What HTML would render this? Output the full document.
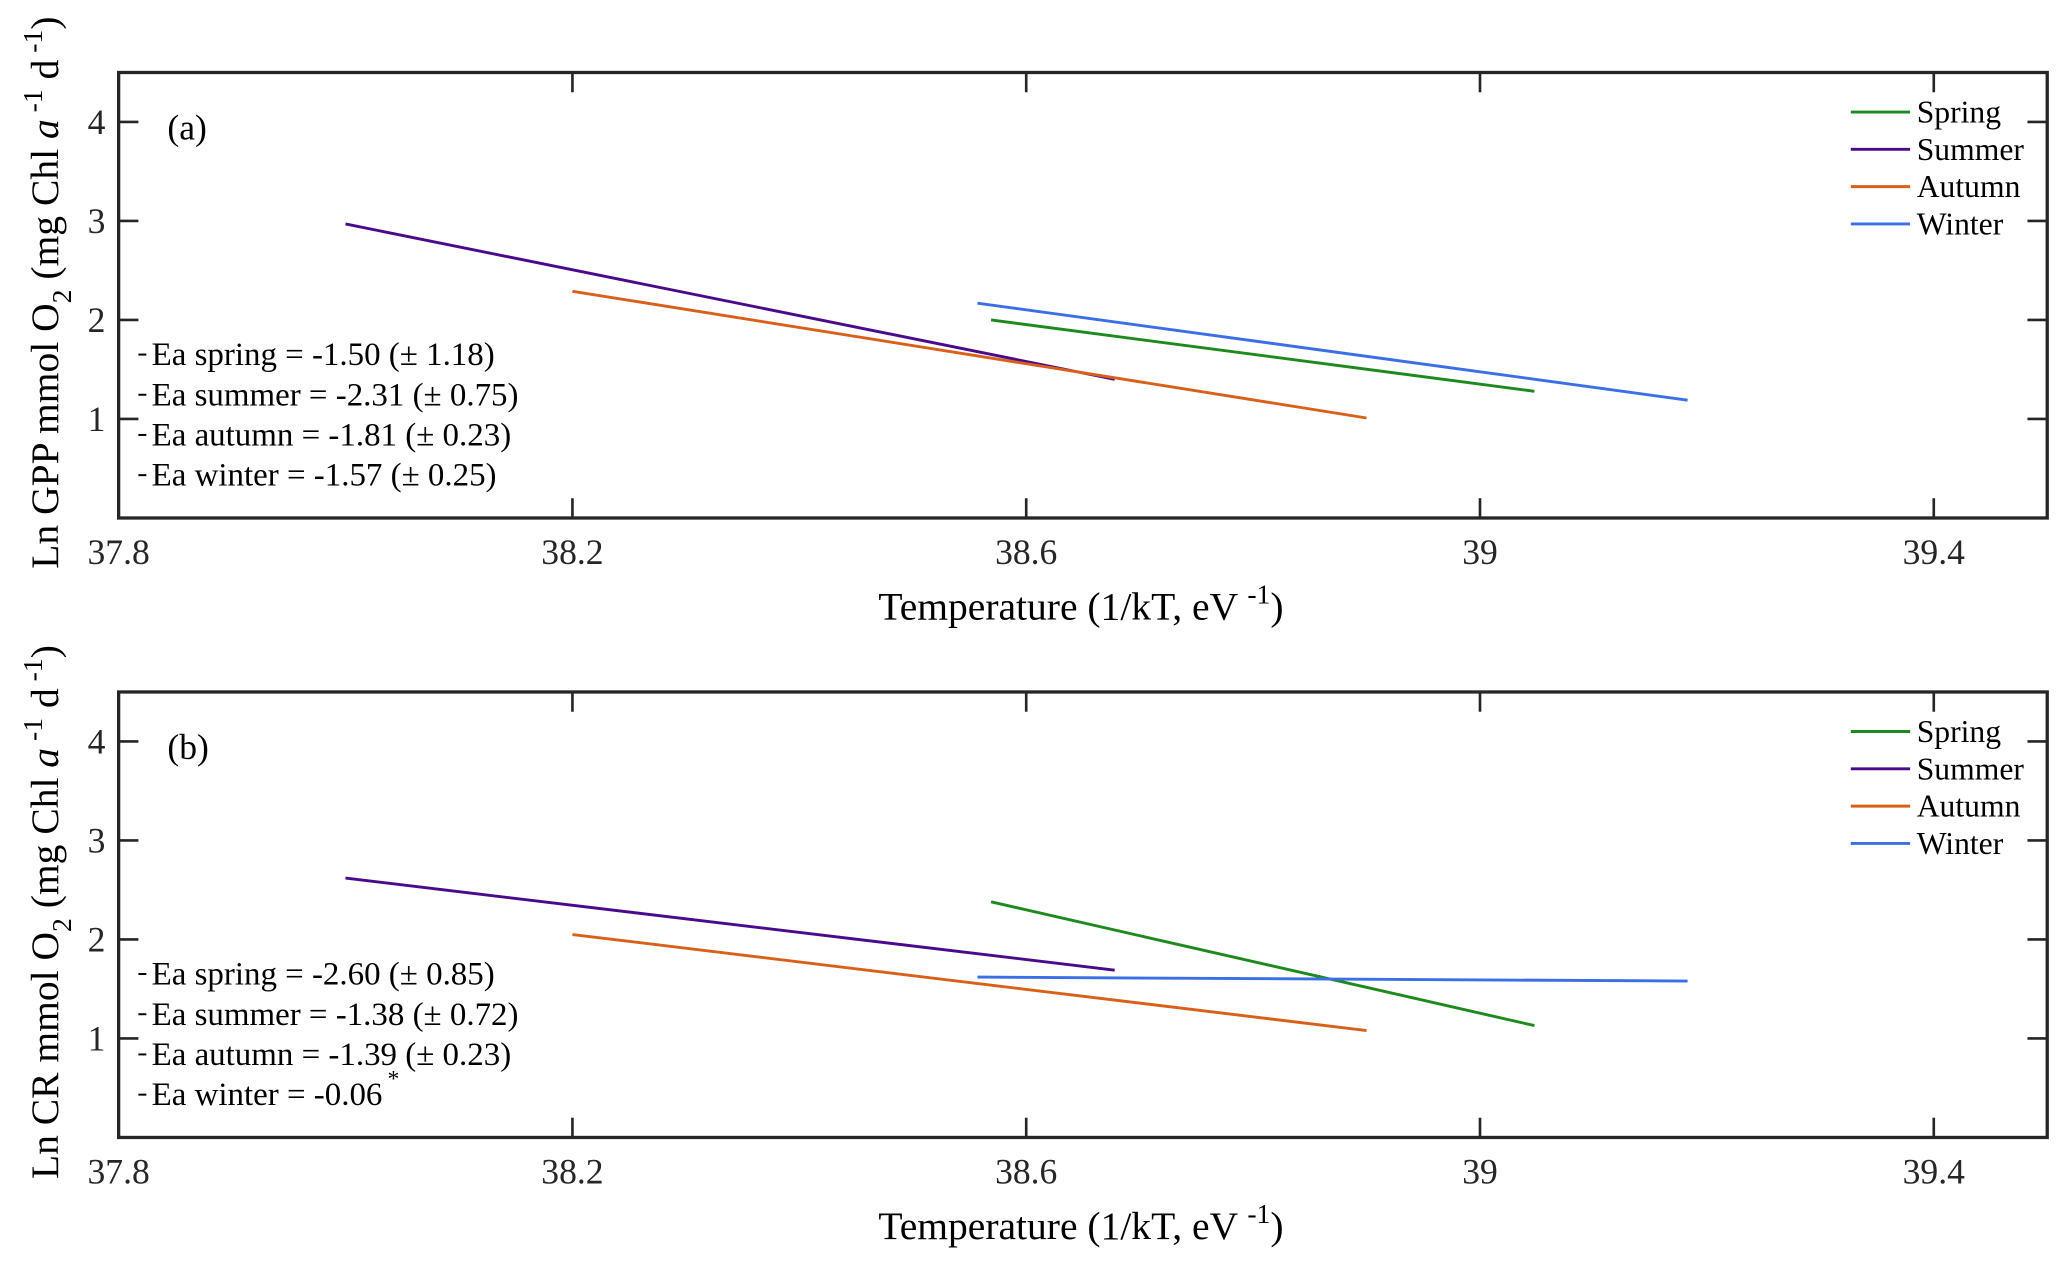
<!DOCTYPE html>
<html><head><meta charset="utf-8"><style>
html,body{margin:0;padding:0;background:#fff}
svg{display:block;font-family:"Liberation Serif",serif}
</style></head><body>
<svg id="chart" width="2067" height="1264" viewBox="0 0 1568 959" preserveAspectRatio="none" xmlns="http://www.w3.org/2000/svg"></svg>
<script>
const seasons = ["Spring","Summer","Autumn","Winter"];
const colors = ["#1e8a1e","#4b0a8c","#d9601a","#3c6ee6"];
const xTicks = [37.8, 38.2, 38.6, 39, 39.4];
const xTickLabels = ["37.8","38.2","38.6","39","39.4"];
const yTicks = [1,2,3,4];
// panel a (GPP)
const gppX0 = [38.569, 38.0, 38.2, 38.557];
const gppY0 = [2.00, 2.97, 2.29, 2.17];
const gppX1 = [39.048, 38.678, 38.9, 39.183];
const gppY1 = [1.28, 1.40, 1.01, 1.19];
// panel b (CR)
const crX0 = [38.569, 38.0, 38.2, 38.557];
const crY0 = [2.38, 2.62, 2.05, 1.62];
const crX1 = [39.048, 38.678, 38.9, 39.183];
const crY1 = [1.13, 1.69, 1.08, 1.58];
const gppNotes = ["Ea spring = -1.50 (\u00b1 1.18)","Ea summer = -2.31 (\u00b1 0.75)","Ea autumn = -1.81 (\u00b1 0.23)","Ea winter = -1.57 (\u00b1 0.25)"];
const crNotes = ["Ea spring = -2.60 (\u00b1 0.85)","Ea summer = -1.38 (\u00b1 0.72)","Ea autumn = -1.39 (\u00b1 0.23)","Ea winter = -0.06"];

const NS = "http://www.w3.org/2000/svg";
const svg = document.getElementById("chart");
function mk(tag, attrs, parent){const e=document.createElementNS(NS,tag);for(const k in attrs)e.setAttribute(k,attrs[k]);(parent||svg).appendChild(e);return e;}

function panel(top, X0,Y0,X1,Y1, notes, label, ylabelMain, key){
  const L=90,R=1553,T=top,B=top+338;
  const xmin=37.8,xmax=39.5,ymin=0,ymax=4.5;
  const sx=v=>L+(v-xmin)/(xmax-xmin)*(R-L);
  const sy=v=>B-(v-ymin)/(ymax-ymin)*(B-T);
  const g=mk("g",{});
  
  
  xTicks.forEach((v,i)=>{
    const x=sx(v);
    mk("line",{x1:x,y1:B,x2:x,y2:B-15,stroke:"#262626","stroke-width":2},g);
    mk("line",{x1:x,y1:T,x2:x,y2:T+15,stroke:"#262626","stroke-width":2},g);
    const t=mk("text",{x:x,y:B+35,"text-anchor":"middle","font-size":27,fill:"#262626"},g);
    t.textContent=xTickLabels[i];
    
    
  });
  yTicks.forEach(v=>{
    const y=sy(v);
    mk("line",{x1:L,y1:y,x2:L+15,y2:y,stroke:"#262626","stroke-width":2},g);
    mk("line",{x1:R,y1:y,x2:R-15,y2:y,stroke:"#262626","stroke-width":2},g);
    const t=mk("text",{x:L-10,y:y+9,"text-anchor":"end","font-size":27,fill:"#262626"},g);
    t.textContent=String(v);
    
    
  });
  const box=mk("rect",{x:L,y:T,width:R-L,height:B-T,fill:"none",stroke:"#262626","stroke-width":2.5},g);
  
  
  seasons.forEach((s,i)=>{
    const l=mk("line",{x1:sx(X0[i]),y1:sy(Y0[i]),x2:sx(X1[i]),y2:sy(Y1[i]),stroke:colors[i],"stroke-width":2.2},g);
    
    
  });
  const pl=mk("text",{x:127,y:T+51,"font-size":27,fill:"#000"},g);
  pl.textContent=label;
  
  
  seasons.forEach((s,i)=>{
    const y=T+30+i*28.3;
    const ll=mk("line",{x1:1404,y1:y,x2:1449,y2:y,stroke:colors[i],"stroke-width":2.2},g);
    
    
    const lt=mk("text",{x:1454,y:y+8,"font-size":24,fill:"#000"},g);
    lt.textContent=s;
    
    
  });
  notes.forEach((n,i)=>{
    const y=T+222+i*30.5;
    mk("line",{x1:105,y1:y-8,x2:111,y2:y-8,stroke:"#000","stroke-width":1.5},g);
    const nt=mk("text",{x:115,y:y,"font-size":25,fill:"#000"},g);
    nt.textContent=n;
    
    
  });
  const xl=mk("text",{x:820,y:B+77,"text-anchor":"middle","font-size":30,fill:"#000"},g);
  xl.innerHTML='Temperature (1/kT, eV <tspan dy="-12" font-size="21">-1</tspan><tspan dy="12">)</tspan>';
  
  
  const yl=mk("text",{transform:`translate(44,${T+167}) rotate(-90)`,"text-anchor":"middle","font-size":30,fill:"#000"},g);
  yl.innerHTML=ylabelMain+' mmol O<tspan dy="10" font-size="21">2</tspan><tspan dy="-10"> (mg Chl </tspan><tspan font-style="italic">a</tspan><tspan dy="-12" font-size="21"> -1</tspan><tspan dy="12"> d</tspan><tspan dy="-12" font-size="21"> -1</tspan><tspan dy="12">)</tspan>';
  
  
}
panel(55,gppX0,gppY0,gppX1,gppY1,gppNotes,"(a)","Ln GPP","gpp");
panel(525,crX0,crY0,crX1,crY1,crNotes,"(b)","Ln CR","cr");
const star=mk("text",{x:294,y:525+222+3*30.5-14,"font-size":18,fill:"#000"});
star.textContent="*";


</script>
</body></html>
